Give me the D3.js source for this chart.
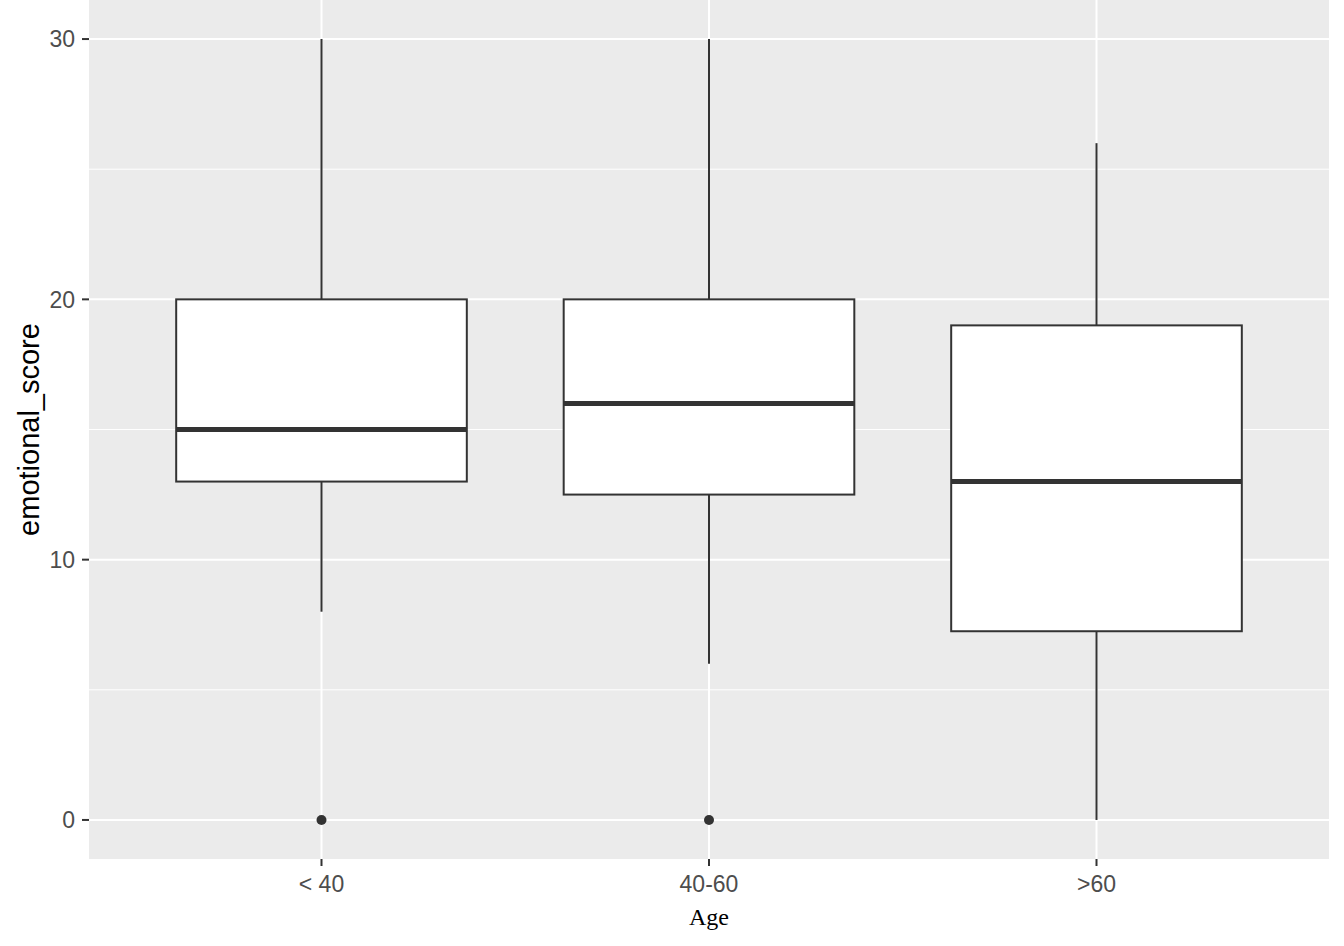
<!DOCTYPE html>
<html>
<head>
<meta charset="utf-8">
<script src="https://cdn.jsdelivr.net/npm/d3@7"></script>
<style>
html,body{margin:0;padding:0;background:#fff;}
</style>
</head>
<body>
<svg id="chart" width="1344" height="946"></svg>
<script>
const categories = ["< 40", "40-60", ">60"];
const lowerWhisker = [8, 6, 0];
const q1 = [13, 12.5, 7.25];
const median = [15, 16, 13];
const q3 = [20, 20, 19];
const upperWhisker = [30, 30, 26];
const outliers = [[0], [0], []];
const yTicks = [0, 10, 20, 30];
const yMinor = [5, 15, 25];

const svg = d3.select("#chart");
const panel = {left: 89, right: 1329, top: 0, bottom: 859};

const y = d3.scaleLinear().domain([-1.5, 31.5]).range([panel.bottom, panel.top]);
// ggplot discrete: expand 0.6 units each side
const x = d3.scalePoint().domain(categories)
  .range([panel.left, panel.right]).padding(0.6);
const unit = x.step();
const xc = c => x(c);
const boxW = unit * 0.75;

svg.append("rect").attr("x", panel.left).attr("y", panel.top)
  .attr("width", panel.right - panel.left).attr("height", panel.bottom - panel.top)
  .attr("fill", "#EBEBEB");

const g = svg.append("g");
yMinor.forEach(v => g.append("line").attr("x1", panel.left).attr("x2", panel.right)
  .attr("y1", y(v)).attr("y2", y(v)).attr("stroke", "#fff").attr("stroke-width", 1));
yTicks.forEach(v => g.append("line").attr("x1", panel.left).attr("x2", panel.right)
  .attr("y1", y(v)).attr("y2", y(v)).attr("stroke", "#fff").attr("stroke-width", 2));
categories.forEach(c => g.append("line").attr("x1", xc(c)).attr("x2", xc(c))
  .attr("y1", panel.top).attr("y2", panel.bottom).attr("stroke", "#fff").attr("stroke-width", 2));

const col = "#333333";
categories.forEach((c, i) => {
  const cx = xc(c);
  g.append("line").attr("x1", cx).attr("x2", cx).attr("y1", y(upperWhisker[i])).attr("y2", y(q3[i]))
    .attr("stroke", col).attr("stroke-width", 2);
  g.append("line").attr("x1", cx).attr("x2", cx).attr("y1", y(q1[i])).attr("y2", y(lowerWhisker[i]))
    .attr("stroke", col).attr("stroke-width", 2);
  g.append("rect").attr("x", cx - boxW / 2).attr("width", boxW)
    .attr("y", y(q3[i])).attr("height", y(q1[i]) - y(q3[i]))
    .attr("fill", "#fff").attr("stroke", col).attr("stroke-width", 2);
  g.append("line").attr("x1", cx - boxW / 2).attr("x2", cx + boxW / 2)
    .attr("y1", y(median[i])).attr("y2", y(median[i])).attr("stroke", col).attr("stroke-width", 5);
  outliers[i].forEach(o => g.append("circle").attr("cx", cx).attr("cy", y(o)).attr("r", 5).attr("fill", col));
});

// axes
yTicks.forEach(v => {
  svg.append("line").attr("x1", panel.left - 7).attr("x2", panel.left).attr("y1", y(v)).attr("y2", y(v))
    .attr("stroke", col).attr("stroke-width", 2);
  svg.append("text").attr("x", panel.left - 14).attr("y", y(v)).attr("dy", "0.36em")
    .attr("text-anchor", "end").attr("font-family", "Liberation Sans, Arial, sans-serif")
    .attr("font-size", 23).attr("fill", "#4D4D4D").text(v);
});
categories.forEach(c => {
  svg.append("line").attr("x1", xc(c)).attr("x2", xc(c)).attr("y1", panel.bottom).attr("y2", panel.bottom + 7)
    .attr("stroke", col).attr("stroke-width", 2);
  svg.append("text").attr("x", xc(c)).attr("y", panel.bottom + 33)
    .attr("text-anchor", "middle").attr("font-family", "Liberation Sans, Arial, sans-serif")
    .attr("font-size", 23).attr("fill", "#4D4D4D").text(c);
});

svg.append("text").attr("transform", `translate(39,${(panel.top + panel.bottom) / 2}) rotate(-90)`)
  .attr("text-anchor", "middle").attr("font-family", "Liberation Sans, Arial, sans-serif")
  .attr("font-size", 29).attr("fill", "#000").text("emotional_score");
svg.append("text").attr("x", (panel.left + panel.right) / 2).attr("y", 925)
  .attr("text-anchor", "middle").attr("font-family", "Liberation Serif, Times New Roman, serif")
  .attr("font-size", 24).attr("fill", "#000").text("Age");
</script>
</body>
</html>
